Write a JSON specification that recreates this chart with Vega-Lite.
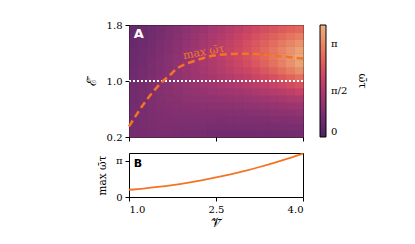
{
  "$schema": "https://vega.github.io/schema/vega-lite/v6.json",
  "padding": {"left": 84, "top": 19, "right": 0, "bottom": 0},
  "spacing": 16,
  "bounds": "flush",
  "datasets": {
    "grid": [
      {"V":1.075,"E":0.25,"w":0.66},{"V":1.075,"E":0.35,"w":0.66},{"V":1.075,"E":0.45,"w":0.66},{"V":1.075,"E":0.55,"w":0.66},{"V":1.075,"E":0.65,"w":0.65},{"V":1.075,"E":0.75,"w":0.64},{"V":1.075,"E":0.85,"w":0.63},{"V":1.075,"E":0.95,"w":0.62},{"V":1.075,"E":1.05,"w":0.60},{"V":1.075,"E":1.15,"w":0.58},{"V":1.075,"E":1.25,"w":0.56},{"V":1.075,"E":1.35,"w":0.54},{"V":1.075,"E":1.45,"w":0.52},{"V":1.075,"E":1.55,"w":0.49},{"V":1.075,"E":1.65,"w":0.47},{"V":1.075,"E":1.75,"w":0.45},
      {"V":1.225,"E":0.25,"w":0.70},{"V":1.225,"E":0.35,"w":0.71},{"V":1.225,"E":0.45,"w":0.72},{"V":1.225,"E":0.55,"w":0.73},{"V":1.225,"E":0.65,"w":0.73},{"V":1.225,"E":0.75,"w":0.72},{"V":1.225,"E":0.85,"w":0.72},{"V":1.225,"E":0.95,"w":0.70},{"V":1.225,"E":1.05,"w":0.69},{"V":1.225,"E":1.15,"w":0.67},{"V":1.225,"E":1.25,"w":0.64},{"V":1.225,"E":1.35,"w":0.62},{"V":1.225,"E":1.45,"w":0.59},{"V":1.225,"E":1.55,"w":0.57},{"V":1.225,"E":1.65,"w":0.54},{"V":1.225,"E":1.75,"w":0.51},
      {"V":1.375,"E":0.25,"w":0.73},{"V":1.375,"E":0.35,"w":0.76},{"V":1.375,"E":0.45,"w":0.77},{"V":1.375,"E":0.55,"w":0.79},{"V":1.375,"E":0.65,"w":0.80},{"V":1.375,"E":0.75,"w":0.80},{"V":1.375,"E":0.85,"w":0.80},{"V":1.375,"E":0.95,"w":0.80},{"V":1.375,"E":1.05,"w":0.78},{"V":1.375,"E":1.15,"w":0.76},{"V":1.375,"E":1.25,"w":0.74},{"V":1.375,"E":1.35,"w":0.71},{"V":1.375,"E":1.45,"w":0.69},{"V":1.375,"E":1.55,"w":0.65},{"V":1.375,"E":1.65,"w":0.62},{"V":1.375,"E":1.75,"w":0.59},
      {"V":1.525,"E":0.25,"w":0.74},{"V":1.525,"E":0.35,"w":0.78},{"V":1.525,"E":0.45,"w":0.81},{"V":1.525,"E":0.55,"w":0.84},{"V":1.525,"E":0.65,"w":0.86},{"V":1.525,"E":0.75,"w":0.88},{"V":1.525,"E":0.85,"w":0.89},{"V":1.525,"E":0.95,"w":0.89},{"V":1.525,"E":1.05,"w":0.89},{"V":1.525,"E":1.15,"w":0.87},{"V":1.525,"E":1.25,"w":0.85},{"V":1.525,"E":1.35,"w":0.83},{"V":1.525,"E":1.45,"w":0.80},{"V":1.525,"E":1.55,"w":0.76},{"V":1.525,"E":1.65,"w":0.72},{"V":1.525,"E":1.75,"w":0.68},
      {"V":1.675,"E":0.25,"w":0.74},{"V":1.675,"E":0.35,"w":0.78},{"V":1.675,"E":0.45,"w":0.83},{"V":1.675,"E":0.55,"w":0.87},{"V":1.675,"E":0.65,"w":0.91},{"V":1.675,"E":0.75,"w":0.94},{"V":1.675,"E":0.85,"w":0.96},{"V":1.675,"E":0.95,"w":0.98},{"V":1.675,"E":1.05,"w":0.99},{"V":1.675,"E":1.15,"w":0.98},{"V":1.675,"E":1.25,"w":0.97},{"V":1.675,"E":1.35,"w":0.95},{"V":1.675,"E":1.45,"w":0.91},{"V":1.675,"E":1.55,"w":0.88},{"V":1.675,"E":1.65,"w":0.83},{"V":1.675,"E":1.75,"w":0.79},
      {"V":1.825,"E":0.25,"w":0.71},{"V":1.825,"E":0.35,"w":0.77},{"V":1.825,"E":0.45,"w":0.82},{"V":1.825,"E":0.55,"w":0.88},{"V":1.825,"E":0.65,"w":0.93},{"V":1.825,"E":0.75,"w":0.98},{"V":1.825,"E":0.85,"w":1.03},{"V":1.825,"E":0.95,"w":1.06},{"V":1.825,"E":1.05,"w":1.08},{"V":1.825,"E":1.15,"w":1.09},{"V":1.825,"E":1.25,"w":1.09},{"V":1.825,"E":1.35,"w":1.07},{"V":1.825,"E":1.45,"w":1.05},{"V":1.825,"E":1.55,"w":1.01},{"V":1.825,"E":1.65,"w":0.96},{"V":1.825,"E":1.75,"w":0.91},
      {"V":1.975,"E":0.25,"w":0.70},{"V":1.975,"E":0.35,"w":0.76},{"V":1.975,"E":0.45,"w":0.83},{"V":1.975,"E":0.55,"w":0.90},{"V":1.975,"E":0.65,"w":0.97},{"V":1.975,"E":0.75,"w":1.03},{"V":1.975,"E":0.85,"w":1.09},{"V":1.975,"E":0.95,"w":1.14},{"V":1.975,"E":1.05,"w":1.18},{"V":1.975,"E":1.15,"w":1.21},{"V":1.975,"E":1.25,"w":1.21},{"V":1.975,"E":1.35,"w":1.20},{"V":1.975,"E":1.45,"w":1.17},{"V":1.975,"E":1.55,"w":1.13},{"V":1.975,"E":1.65,"w":1.08},{"V":1.975,"E":1.75,"w":1.02},
      {"V":2.125,"E":0.25,"w":0.68},{"V":2.125,"E":0.35,"w":0.75},{"V":2.125,"E":0.45,"w":0.82},{"V":2.125,"E":0.55,"w":0.90},{"V":2.125,"E":0.65,"w":0.98},{"V":2.125,"E":0.75,"w":1.07},{"V":2.125,"E":0.85,"w":1.15},{"V":2.125,"E":0.95,"w":1.22},{"V":2.125,"E":1.05,"w":1.28},{"V":2.125,"E":1.15,"w":1.32},{"V":2.125,"E":1.25,"w":1.34},{"V":2.125,"E":1.35,"w":1.33},{"V":2.125,"E":1.45,"w":1.31},{"V":2.125,"E":1.55,"w":1.27},{"V":2.125,"E":1.65,"w":1.21},{"V":2.125,"E":1.75,"w":1.14},
      {"V":2.275,"E":0.25,"w":0.67},{"V":2.275,"E":0.35,"w":0.74},{"V":2.275,"E":0.45,"w":0.82},{"V":2.275,"E":0.55,"w":0.91},{"V":2.275,"E":0.65,"w":1.00},{"V":2.275,"E":0.75,"w":1.10},{"V":2.275,"E":0.85,"w":1.20},{"V":2.275,"E":0.95,"w":1.29},{"V":2.275,"E":1.05,"w":1.37},{"V":2.275,"E":1.15,"w":1.43},{"V":2.275,"E":1.25,"w":1.47},{"V":2.275,"E":1.35,"w":1.47},{"V":2.275,"E":1.45,"w":1.45},{"V":2.275,"E":1.55,"w":1.41},{"V":2.275,"E":1.65,"w":1.35},{"V":2.275,"E":1.75,"w":1.27},
      {"V":2.425,"E":0.25,"w":0.65},{"V":2.425,"E":0.35,"w":0.72},{"V":2.425,"E":0.45,"w":0.81},{"V":2.425,"E":0.55,"w":0.90},{"V":2.425,"E":0.65,"w":1.01},{"V":2.425,"E":0.75,"w":1.12},{"V":2.425,"E":0.85,"w":1.24},{"V":2.425,"E":0.95,"w":1.35},{"V":2.425,"E":1.05,"w":1.46},{"V":2.425,"E":1.15,"w":1.55},{"V":2.425,"E":1.25,"w":1.60},{"V":2.425,"E":1.35,"w":1.62},{"V":2.425,"E":1.45,"w":1.61},{"V":2.425,"E":1.55,"w":1.56},{"V":2.425,"E":1.65,"w":1.50},{"V":2.425,"E":1.75,"w":1.41},
      {"V":2.575,"E":0.25,"w":0.64},{"V":2.575,"E":0.35,"w":0.71},{"V":2.575,"E":0.45,"w":0.80},{"V":2.575,"E":0.55,"w":0.91},{"V":2.575,"E":0.65,"w":1.02},{"V":2.575,"E":0.75,"w":1.15},{"V":2.575,"E":0.85,"w":1.28},{"V":2.575,"E":0.95,"w":1.42},{"V":2.575,"E":1.05,"w":1.55},{"V":2.575,"E":1.15,"w":1.66},{"V":2.575,"E":1.25,"w":1.74},{"V":2.575,"E":1.35,"w":1.78},{"V":2.575,"E":1.45,"w":1.77},{"V":2.575,"E":1.55,"w":1.72},{"V":2.575,"E":1.65,"w":1.65},{"V":2.575,"E":1.75,"w":1.55},
      {"V":2.725,"E":0.25,"w":0.63},{"V":2.725,"E":0.35,"w":0.71},{"V":2.725,"E":0.45,"w":0.81},{"V":2.725,"E":0.55,"w":0.92},{"V":2.725,"E":0.65,"w":1.04},{"V":2.725,"E":0.75,"w":1.18},{"V":2.725,"E":0.85,"w":1.34},{"V":2.725,"E":0.95,"w":1.50},{"V":2.725,"E":1.05,"w":1.65},{"V":2.725,"E":1.15,"w":1.79},{"V":2.725,"E":1.25,"w":1.90},{"V":2.725,"E":1.35,"w":1.94},{"V":2.725,"E":1.45,"w":1.94},{"V":2.725,"E":1.55,"w":1.89},{"V":2.725,"E":1.65,"w":1.80},{"V":2.725,"E":1.75,"w":1.69},
      {"V":2.875,"E":0.25,"w":0.62},{"V":2.875,"E":0.35,"w":0.71},{"V":2.875,"E":0.45,"w":0.81},{"V":2.875,"E":0.55,"w":0.92},{"V":2.875,"E":0.65,"w":1.06},{"V":2.875,"E":0.75,"w":1.21},{"V":2.875,"E":0.85,"w":1.38},{"V":2.875,"E":0.95,"w":1.57},{"V":2.875,"E":1.05,"w":1.76},{"V":2.875,"E":1.15,"w":1.93},{"V":2.875,"E":1.25,"w":2.05},{"V":2.875,"E":1.35,"w":2.12},{"V":2.875,"E":1.45,"w":2.11},{"V":2.875,"E":1.55,"w":2.06},{"V":2.875,"E":1.65,"w":1.96},{"V":2.875,"E":1.75,"w":1.83},
      {"V":3.025,"E":0.25,"w":0.62},{"V":3.025,"E":0.35,"w":0.71},{"V":3.025,"E":0.45,"w":0.81},{"V":3.025,"E":0.55,"w":0.93},{"V":3.025,"E":0.65,"w":1.08},{"V":3.025,"E":0.75,"w":1.24},{"V":3.025,"E":0.85,"w":1.43},{"V":3.025,"E":0.95,"w":1.64},{"V":3.025,"E":1.05,"w":1.86},{"V":3.025,"E":1.15,"w":2.06},{"V":3.025,"E":1.25,"w":2.22},{"V":3.025,"E":1.35,"w":2.31},{"V":3.025,"E":1.45,"w":2.30},{"V":3.025,"E":1.55,"w":2.24},{"V":3.025,"E":1.65,"w":2.12},{"V":3.025,"E":1.75,"w":1.97},
      {"V":3.175,"E":0.25,"w":0.62},{"V":3.175,"E":0.35,"w":0.72},{"V":3.175,"E":0.45,"w":0.82},{"V":3.175,"E":0.55,"w":0.95},{"V":3.175,"E":0.65,"w":1.11},{"V":3.175,"E":0.75,"w":1.29},{"V":3.175,"E":0.85,"w":1.51},{"V":3.175,"E":0.95,"w":1.75},{"V":3.175,"E":1.05,"w":2.00},{"V":3.175,"E":1.15,"w":2.23},{"V":3.175,"E":1.25,"w":2.41},{"V":3.175,"E":1.35,"w":2.51},{"V":3.175,"E":1.45,"w":2.49},{"V":3.175,"E":1.55,"w":2.41},{"V":3.175,"E":1.65,"w":2.28},{"V":3.175,"E":1.75,"w":2.10},
      {"V":3.325,"E":0.25,"w":0.63},{"V":3.325,"E":0.35,"w":0.72},{"V":3.325,"E":0.45,"w":0.84},{"V":3.325,"E":0.55,"w":0.97},{"V":3.325,"E":0.65,"w":1.14},{"V":3.325,"E":0.75,"w":1.34},{"V":3.325,"E":0.85,"w":1.58},{"V":3.325,"E":0.95,"w":1.84},{"V":3.325,"E":1.05,"w":2.13},{"V":3.325,"E":1.15,"w":2.40},{"V":3.325,"E":1.25,"w":2.61},{"V":3.325,"E":1.35,"w":2.71},{"V":3.325,"E":1.45,"w":2.69},{"V":3.325,"E":1.55,"w":2.59},{"V":3.325,"E":1.65,"w":2.43},{"V":3.325,"E":1.75,"w":2.24},
      {"V":3.475,"E":0.25,"w":0.63},{"V":3.475,"E":0.35,"w":0.73},{"V":3.475,"E":0.45,"w":0.85},{"V":3.475,"E":0.55,"w":1.00},{"V":3.475,"E":0.65,"w":1.18},{"V":3.475,"E":0.75,"w":1.40},{"V":3.475,"E":0.85,"w":1.66},{"V":3.475,"E":0.95,"w":1.96},{"V":3.475,"E":1.05,"w":2.28},{"V":3.475,"E":1.15,"w":2.59},{"V":3.475,"E":1.25,"w":2.83},{"V":3.475,"E":1.35,"w":2.93},{"V":3.475,"E":1.45,"w":2.90},{"V":3.475,"E":1.55,"w":2.78},{"V":3.475,"E":1.65,"w":2.59},{"V":3.475,"E":1.75,"w":2.36},
      {"V":3.625,"E":0.25,"w":0.64},{"V":3.625,"E":0.35,"w":0.74},{"V":3.625,"E":0.45,"w":0.87},{"V":3.625,"E":0.55,"w":1.03},{"V":3.625,"E":0.65,"w":1.22},{"V":3.625,"E":0.75,"w":1.46},{"V":3.625,"E":0.85,"w":1.74},{"V":3.625,"E":0.95,"w":2.08},{"V":3.625,"E":1.05,"w":2.45},{"V":3.625,"E":1.15,"w":2.80},{"V":3.625,"E":1.25,"w":3.06},{"V":3.625,"E":1.35,"w":3.16},{"V":3.625,"E":1.45,"w":3.11},{"V":3.625,"E":1.55,"w":2.96},{"V":3.625,"E":1.65,"w":2.74},{"V":3.625,"E":1.75,"w":2.48},
      {"V":3.775,"E":0.25,"w":0.65},{"V":3.775,"E":0.35,"w":0.76},{"V":3.775,"E":0.45,"w":0.89},{"V":3.775,"E":0.55,"w":1.05},{"V":3.775,"E":0.65,"w":1.26},{"V":3.775,"E":0.75,"w":1.52},{"V":3.775,"E":0.85,"w":1.83},{"V":3.775,"E":0.95,"w":2.21},{"V":3.775,"E":1.05,"w":2.62},{"V":3.775,"E":1.15,"w":3.02},{"V":3.775,"E":1.25,"w":3.31},{"V":3.775,"E":1.35,"w":3.40},{"V":3.775,"E":1.45,"w":3.33},{"V":3.775,"E":1.55,"w":3.14},{"V":3.775,"E":1.65,"w":2.89},{"V":3.775,"E":1.75,"w":2.59},
      {"V":3.925,"E":0.25,"w":0.66},{"V":3.925,"E":0.35,"w":0.77},{"V":3.925,"E":0.45,"w":0.91},{"V":3.925,"E":0.55,"w":1.08},{"V":3.925,"E":0.65,"w":1.30},{"V":3.925,"E":0.75,"w":1.58},{"V":3.925,"E":0.85,"w":1.93},{"V":3.925,"E":0.95,"w":2.34},{"V":3.925,"E":1.05,"w":2.81},{"V":3.925,"E":1.15,"w":3.25},{"V":3.925,"E":1.25,"w":3.57},{"V":3.925,"E":1.35,"w":3.65},{"V":3.925,"E":1.45,"w":3.54},{"V":3.925,"E":1.55,"w":3.33},{"V":3.925,"E":1.65,"w":3.03},{"V":3.925,"E":1.75,"w":2.70}
    ],
    "curve": [
      {"V":1.0,"E":0.35},{"V":1.13,"E":0.52},{"V":1.26,"E":0.68},{"V":1.4,"E":0.83},{"V":1.55,"E":0.97},{"V":1.7,"E":1.08},{"V":1.83,"E":1.18},{"V":2.0,"E":1.25},{"V":2.18,"E":1.30},{"V":2.35,"E":1.345},{"V":2.52,"E":1.37},{"V":2.75,"E":1.385},{"V":2.98,"E":1.39},{"V":3.2,"E":1.385},{"V":3.38,"E":1.37},{"V":3.7,"E":1.345},{"V":4.0,"E":1.32}
    ],
    "mline": [
      {"V":1.0,"M":0.63},{"V":1.25,"M":0.738},{"V":1.5,"M":0.875},{"V":1.75,"M":1.039},{"V":2.0,"M":1.231},{"V":2.25,"M":1.451},{"V":2.5,"M":1.70},{"V":2.75,"M":1.976},{"V":3.0,"M":2.28},{"V":3.25,"M":2.612},{"V":3.5,"M":2.973},{"V":3.75,"M":3.361},{"V":4.0,"M":3.777}
    ]
  },
  "vconcat": [
    {
      "width": 174,
      "height": 112,
      "view": {"fill": "#7d2f6f", "stroke": "black"},
      "layer": [
        {
          "data": {"name": "grid"},
          "mark": {"type": "rect"},
          "encoding": {
            "x": {"field": "V", "type": "quantitative", "bin": {"extent": [1, 4], "step": 0.15, "nice": false}, "scale": {"domain": [1, 4]}, "axis": {"values": [1, 2.5, 4], "labels": false, "title": null}},
            "y": {"field": "E", "type": "quantitative", "bin": {"extent": [0.2, 1.8], "step": 0.1, "nice": false}, "scale": {"domain": [0.2, 1.8]}, "axis": {"values": [0.2, 1, 1.8], "format": ".1f", "title": "ℰ̄", "titleFontSize": 13, "titlePadding": 8}},
            "color": {
              "field": "w", "type": "quantitative",
              "scale": {"domain": [0, 3.8], "range": ["#4b2362", "#6c2b6d", "#8f3371", "#b13c6c", "#d14a61", "#e3685c", "#e98d6b", "#edb081"]},
              "legend": {"type": "gradient", "direction": "vertical", "offset": 11, "gradientLength": 112, "gradientThickness": 6, "gradientStrokeColor": "black", "gradientStrokeWidth": 1, "values": [0, 1.5708, 3.1416], "labelExpr": "datum.value < 0.1 ? '0' : datum.value < 2 ? 'π/2' : 'π'", "labelFont": "DejaVu Serif", "labelFontSize": 10, "labelColor": "black", "labelOffset": 5, "title": "ω̄τ", "titleOrient": "right", "titleFont": "DejaVu Serif", "titleFontSize": 11, "titleFontWeight": "normal", "titleColor": "black", "titlePadding": 10}
            }
          }
        },
        {
          "data": {"name": "grid"},
          "mark": {"type": "rect"},
          "encoding": {
            "x": {"field": "V", "type": "quantitative", "bin": {"extent": [1, 4], "step": 0.15, "nice": false}},
            "y": {"field": "E", "type": "quantitative", "bin": {"extent": [0.2, 1.8], "step": 0.1, "nice": false}},
            "color": {"field": "w", "type": "quantitative"}
          }
        },
        {
          "data": {"values": [{"E": 1.0}]},
          "mark": {"type": "rule", "color": "white", "strokeWidth": 2, "strokeDash": [2, 2]},
          "encoding": {"y": {"field": "E", "type": "quantitative"}}
        },
        {
          "data": {"name": "curve"},
          "mark": {"type": "line", "color": "#f47424", "strokeWidth": 2.5, "strokeDash": [7, 4], "interpolate": "monotone"},
          "encoding": {
            "x": {"field": "V", "type": "quantitative"},
            "y": {"field": "E", "type": "quantitative"}
          }
        },
        {
          "data": {"values": [{"V": 2.29, "E": 1.41, "label": "max ω̄τ"}]},
          "mark": {"type": "text", "angle": -10, "font": "DejaVu Serif", "fontSize": 11, "color": "#ec7a2c", "align": "center", "baseline": "middle"},
          "encoding": {
            "x": {"field": "V", "type": "quantitative"},
            "y": {"field": "E", "type": "quantitative"},
            "text": {"field": "label"}
          }
        },
        {
          "data": {"values": [{"V": 1.08, "E": 1.76, "label": "A"}]},
          "mark": {"type": "text", "font": "DejaVu Sans", "fontWeight": "bold", "fontSize": 13, "color": "white", "align": "left", "baseline": "top"},
          "encoding": {
            "x": {"field": "V", "type": "quantitative"},
            "y": {"field": "E", "type": "quantitative"},
            "text": {"field": "label"}
          }
        }
      ]
    },
    {
      "width": 174,
      "height": 44,
      "encoding": {
        "x": {"field": "V", "type": "quantitative", "scale": {"domain": [1, 4]}, "axis": {"values": [1, 2.5, 4], "format": ".1f", "title": "𝒱̄", "titleFontSize": 13, "titlePadding": 2}},
        "y": {"field": "M", "type": "quantitative", "scale": {"domain": [0, 3.83], "nice": false}, "axis": {"values": [0, 3.14159], "labelExpr": "datum.value < 1 ? '0' : 'π'", "title": "max ω̄τ", "titleFontSize": 10.5, "titlePadding": 8}}
      },
      "layer": [
        {
          "data": {"name": "mline"},
          "mark": {"type": "line", "color": "#f47424", "strokeWidth": 1.8, "interpolate": "monotone"}
        },
        {
          "data": {"values": [{"V": 1.08, "M": 3.4, "label": "B"}]},
          "mark": {"type": "text", "font": "DejaVu Sans", "fontWeight": "bold", "fontSize": 11, "color": "black", "align": "left", "baseline": "top"},
          "encoding": {
            "text": {"field": "label"}
          }
        }
      ]
    }
  ],
  "config": {
    "view": {"stroke": "black", "strokeWidth": 1},
    "rect": {"binSpacing": 0},
    "axis": {"domain": false, "grid": false, "ticks": true, "tickColor": "black", "tickSize": 4, "tickWidth": 1, "labelFont": "DejaVu Serif", "labelFontSize": 10, "labelColor": "black", "labelPadding": 3, "titleFont": "DejaVu Serif", "titleFontWeight": "normal", "titleColor": "black"}
  }
}
